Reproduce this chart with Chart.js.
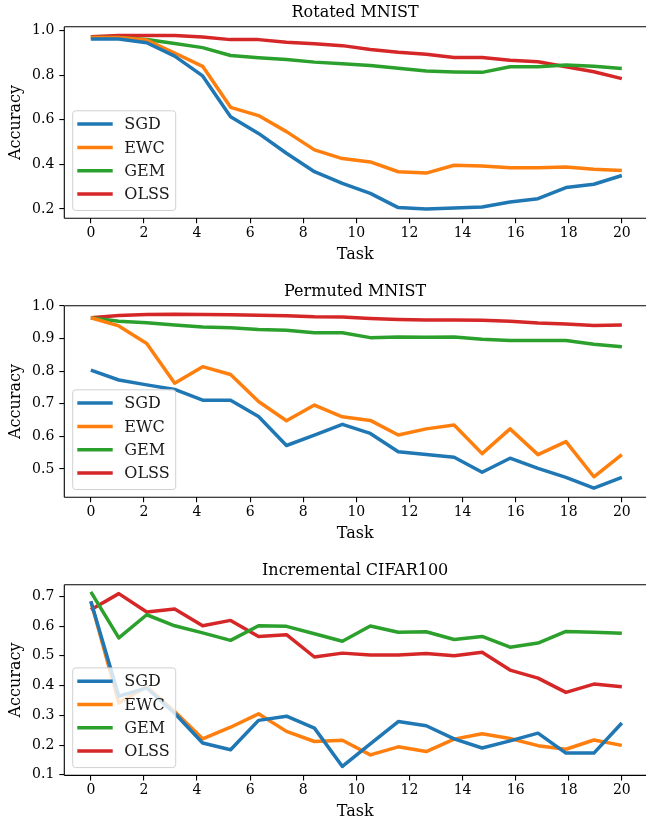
<!DOCTYPE html>
<html>
<head>
<meta charset="utf-8">
<script src="https://cdn.jsdelivr.net/npm/chart.js@4.4.0/dist/chart.umd.min.js"></script>
<style>
  html, body { margin:0; padding:0; background:#fff; overflow:hidden; width:646px; height:824px; }
  .wrap { position:absolute; left:0; width:646px; height:270px; }
</style>
</head>
<body>
<div class="wrap" style="top:0px"><canvas id="c1"></canvas></div>
<div class="wrap" style="top:279px"><canvas id="c2"></canvas></div>
<div class="wrap" style="top:558px"><canvas id="c3"></canvas></div>
<script>
// Task positions (20 evaluation points spread over tasks 0..20)
const tasks = [0, 1.053, 2.105, 3.158, 4.211, 5.263, 6.316, 7.368, 8.421, 9.474,
               10.526, 11.579, 12.632, 13.684, 14.737, 15.789, 16.842, 17.895, 18.947, 20];
const xTicks = [0, 2, 4, 6, 8, 10, 12, 14, 16, 18, 20];
const methods = ["SGD", "EWC", "GEM", "OLSS"];
const colors = ["#1f77b4", "#ff7f0e", "#2ca02c", "#d62728"];

// Rotated MNIST
const rotSGD  = [0.963,0.963,0.946,0.886,0.797,0.614,0.539,0.450,0.367,0.315,0.270,0.206,0.200,0.204,0.209,0.231,0.246,0.296,0.311,0.350];
const rotEWC  = [0.970,0.970,0.958,0.900,0.840,0.656,0.619,0.547,0.465,0.426,0.411,0.367,0.361,0.396,0.393,0.385,0.385,0.388,0.378,0.372];
const rotGEM  = [0.969,0.969,0.961,0.943,0.924,0.889,0.879,0.871,0.859,0.852,0.844,0.831,0.819,0.815,0.813,0.838,0.838,0.846,0.840,0.830];
const rotOLSS = [0.973,0.979,0.979,0.978,0.972,0.960,0.960,0.948,0.942,0.933,0.916,0.903,0.894,0.880,0.880,0.867,0.861,0.838,0.816,0.785];
const rotTicks = [0.2, 0.4, 0.6, 0.8, 1.0];

// Permuted MNIST
const perSGD  = [0.803,0.773,0.758,0.744,0.711,0.711,0.661,0.572,0.604,0.637,0.609,0.553,0.544,0.536,0.490,0.533,0.502,0.474,0.441,0.474];
const perEWC  = [0.964,0.939,0.885,0.763,0.814,0.790,0.707,0.648,0.696,0.660,0.649,0.604,0.623,0.635,0.547,0.623,0.544,0.584,0.476,0.544];
const perGEM  = [0.964,0.953,0.949,0.942,0.936,0.933,0.928,0.926,0.918,0.918,0.903,0.905,0.904,0.905,0.898,0.894,0.894,0.894,0.883,0.875];
const perOLSS = [0.964,0.971,0.974,0.975,0.974,0.973,0.972,0.970,0.967,0.966,0.962,0.959,0.957,0.957,0.956,0.953,0.948,0.945,0.940,0.942];
const perTicks = [0.5, 0.6, 0.7, 0.8, 0.9, 1.0];

// Incremental CIFAR100
const cifSGD  = [0.683,0.364,0.392,0.307,0.207,0.184,0.283,0.297,0.257,0.128,0.204,0.279,0.265,0.221,0.190,0.214,0.240,0.173,0.173,0.274];
const cifEWC  = [0.683,0.341,0.397,0.313,0.221,0.260,0.305,0.246,0.212,0.216,0.167,0.194,0.178,0.220,0.238,0.222,0.198,0.186,0.217,0.199];
const cifGEM  = [0.715,0.560,0.638,0.601,0.577,0.552,0.601,0.599,0.574,0.549,0.600,0.579,0.581,0.555,0.565,0.529,0.543,0.582,0.579,0.576];
const cifOLSS = [0.655,0.709,0.647,0.657,0.601,0.619,0.565,0.571,0.496,0.509,0.503,0.503,0.508,0.500,0.512,0.452,0.425,0.377,0.405,0.396];
const cifTicks = [0.1, 0.2, 0.3, 0.4, 0.5, 0.6, 0.7];

const FONT = "'DejaVu Serif', 'Liberation Serif', serif";

const framePlugin = {
  id: 'frame',
  afterDraw(chart) {
    const a = chart.chartArea, ctx = chart.ctx;
    ctx.save();
    ctx.strokeStyle = '#000';
    ctx.lineWidth = 1.1;
    ctx.lineCap = 'butt';
    ctx.beginPath();
    ctx.moveTo(a.left, a.top); ctx.lineTo(a.right, a.top);
    ctx.stroke();
    ctx.beginPath();
    ctx.moveTo(a.left, a.top); ctx.lineTo(a.left, a.bottom);
    ctx.stroke();
    ctx.beginPath();
    ctx.moveTo(a.left, a.bottom); ctx.lineTo(a.right, a.bottom);
    ctx.stroke();
    ctx.restore();
  }
};

const legendPlugin = {
  id: 'boxLegend',
  afterDatasetsDraw(chart) {
    const a = chart.chartArea, ctx = chart.ctx;
    const w = 103, h = 99.7;
    const x = a.left + 8.4, y = a.bottom - 7.8 - h;
    ctx.save();
    ctx.beginPath();
    const r = 3;
    ctx.moveTo(x + r, y);
    ctx.arcTo(x + w, y, x + w, y + h, r);
    ctx.arcTo(x + w, y + h, x, y + h, r);
    ctx.arcTo(x, y + h, x, y, r);
    ctx.arcTo(x, y, x + w, y, r);
    ctx.closePath();
    ctx.fillStyle = 'rgba(255,255,255,0.8)';
    ctx.fill();
    ctx.strokeStyle = '#d0d0d0';
    ctx.lineWidth = 1;
    ctx.stroke();
    ctx.font = "16px " + FONT;
    ctx.textBaseline = 'middle';
    ctx.textAlign = 'left';
    chart.data.datasets.forEach((ds, k) => {
      const yy = y + 13.3 + k * 23.3;
      ctx.strokeStyle = ds.borderColor;
      ctx.lineWidth = 3.5;
      ctx.lineCap = 'butt';
      ctx.beginPath();
      ctx.moveTo(x + 4.6, yy);
      ctx.lineTo(x + 40, yy);
      ctx.stroke();
      ctx.fillStyle = '#1a1a1a';
      ctx.fillText(ds.label, x + 51.6, yy + 1);
    });
    ctx.restore();
  }
};

function makeChart(id, title, series, yTicks, yMin, yMax, padBottom) {
  const datasets = series.map((vals, k) => ({
    label: methods[k],
    data: vals.map((v, i) => ({ x: tasks[i], y: v })),
    borderColor: colors[k],
    backgroundColor: colors[k],
    borderWidth: 3.5,
    pointRadius: 0,
    tension: 0,
    borderJoinStyle: 'round',
    borderCapStyle: 'butt',
    fill: false
  }));
  return new Chart(document.getElementById(id), {
    type: 'line',
    data: { datasets },
    plugins: [framePlugin, legendPlugin],
    options: {
      responsive: true,
      maintainAspectRatio: false,
      animation: false,
      devicePixelRatio: 1,
      layout: { padding: { left: 0, right: 0, top: 0, bottom: padBottom } },
      plugins: {
        legend: { display: false },
        tooltip: { enabled: false },
        title: {
          display: true,
          fullSize: false,
          text: title,
          color: '#000',
          font: { family: FONT, size: 16, weight: 'normal', lineHeight: 1.2 },
          padding: { top: 3.7, bottom: 3.8 }
        }
      },
      scales: {
        x: {
          type: 'linear',
          min: -1, max: 20.91,
          afterBuildTicks: (s) => { s.ticks = xTicks.map(v => ({ value: v })); },
          afterFit: (s) => { s.height = 46.3; },
          border: { display: false },
          grid: { display: true, drawOnChartArea: false, drawTicks: true, tickLength: 5, color: '#000', lineWidth: 1.1 },
          ticks: { color: '#000', font: { family: FONT, size: 14 }, padding: 2, maxRotation: 0, autoSkip: false,
                   callback: (v) => String(v) },
          title: { display: true, text: 'Task', color: '#000', font: { family: FONT, size: 16, lineHeight: 1.2 }, padding: { top: 0, bottom: 0 } }
        },
        y: {
          type: 'linear',
          min: yMin, max: yMax,
          afterBuildTicks: (s) => { s.ticks = yTicks.map(v => ({ value: v })); },
          afterFit: (s) => { s.width = 64.3; },
          border: { display: false },
          grid: { display: true, drawOnChartArea: false, drawTicks: true, tickLength: 5, color: '#000', lineWidth: 1.1 },
          ticks: { color: '#000', font: { family: FONT, size: 14 }, padding: 5, autoSkip: false,
                   callback: (v) => Number(v).toFixed(1) },
          title: { display: true, text: 'Accuracy', color: '#000', font: { family: FONT, size: 16, lineHeight: 1.2 }, padding: { top: 6.4, bottom: 0 } }
        }
      }
    }
  });
}

makeChart('c1', 'Rotated MNIST', [rotSGD, rotEWC, rotGEM, rotOLSS], rotTicks, 0.158, 1.018, 5.4);
makeChart('c2', 'Permuted MNIST', [perSGD, perEWC, perGEM, perOLSS], perTicks, 0.413, 1.001, 5.4);
makeChart('c3', 'Incremental CIFAR100', [cifSGD, cifEWC, cifGEM, cifOLSS], cifTicks, 0.098, 0.739, 6.3);
</script>
</body>
</html>
